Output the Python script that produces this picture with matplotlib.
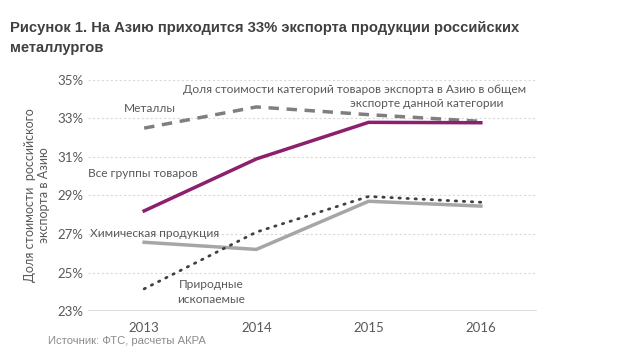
import matplotlib.pyplot as plt

years = [2013, 2014, 2015, 2016]
metals = [32.5, 33.6, 33.2, 32.85]
all_goods = [28.2, 30.9, 32.8, 32.78]
chemicals = [26.57, 26.2, 28.7, 28.45]
minerals = [24.15, 27.1, 28.95, 28.65]
yticks = [23, 25, 27, 29, 31, 33, 35]

txt = '#595959'
plt.rcParams['font.family'] = ['Lato', 'DejaVu Sans']

fig = plt.figure(figsize=(6.2, 3.56), dpi=100)
ax = fig.add_axes([0.142, 0.1264, 0.724, 0.6489])

for y in yticks[1:]:
    ax.axhline(y, color='#d9d9d9', lw=0.8, ls=(0, (2, 2)), zorder=0)
ax.axhline(23, color='#d9d9d9', lw=1.2, zorder=0)

ax.plot(years, metals, color='#7f7f7f', lw=2.5, ls=(0, (3, 2.2)))
ax.plot(years, all_goods, color='#8c1f6e', lw=2.5)
ax.plot(years, chemicals, color='#a6a6a6', lw=2.5)
ax.plot(years, minerals, color='#404040', lw=2.0, ls=(0, (0.5, 2.4)), dash_capstyle='round')

ax.set_xlim(2012.5, 2016.5)
ax.set_ylim(23, 35)
ax.set_xticks(years)
ax.set_yticks(yticks)
ax.set_yticklabels([f'{v}%' for v in yticks])
for s in ax.spines.values():
    s.set_visible(False)
ax.tick_params(length=0, colors=txt, labelsize=9.5)
ax.tick_params(axis='x', pad=8)
ax.set_ylabel('Доля стоимости  российского\nэкспорта в Азию', color=txt, fontsize=9, labelpad=5)

kw = dict(color=txt, fontsize=8.6)
ax.text(2012.82, 33.35, 'Металлы', **kw)
ax.text(2013.35, 34.35, 'Доля стоимости категорий товаров экспорта в Азию в общем', **kw)
ax.text(2016.2, 33.6, 'экспорте данной категории', ha='right', **kw)
ax.text(2012.5, 29.95, 'Все группы товаров', **kw)
ax.text(2012.52, 26.85, 'Химическая продукция', **kw)
ax.text(2013.6, 24.0, 'Природные\nископаемые', ha='center', va='center', linespacing=1.5, **kw)

fig.text(0.016, 0.94, 'Рисунок 1. На Азию приходится 33% экспорта продукции российских\nметаллургов',
         fontsize=10.6, color='#404040', fontweight='bold', family=['Liberation Sans', 'DejaVu Sans'],
         va='top', linespacing=1.55)
fig.text(0.077, 0.035, 'Источник: ФТС, расчеты АКРА', fontsize=8.1, color='#8c8c8c',
         family=['Liberation Sans', 'DejaVu Sans'])

fig.savefig('out.png', dpi=100)
